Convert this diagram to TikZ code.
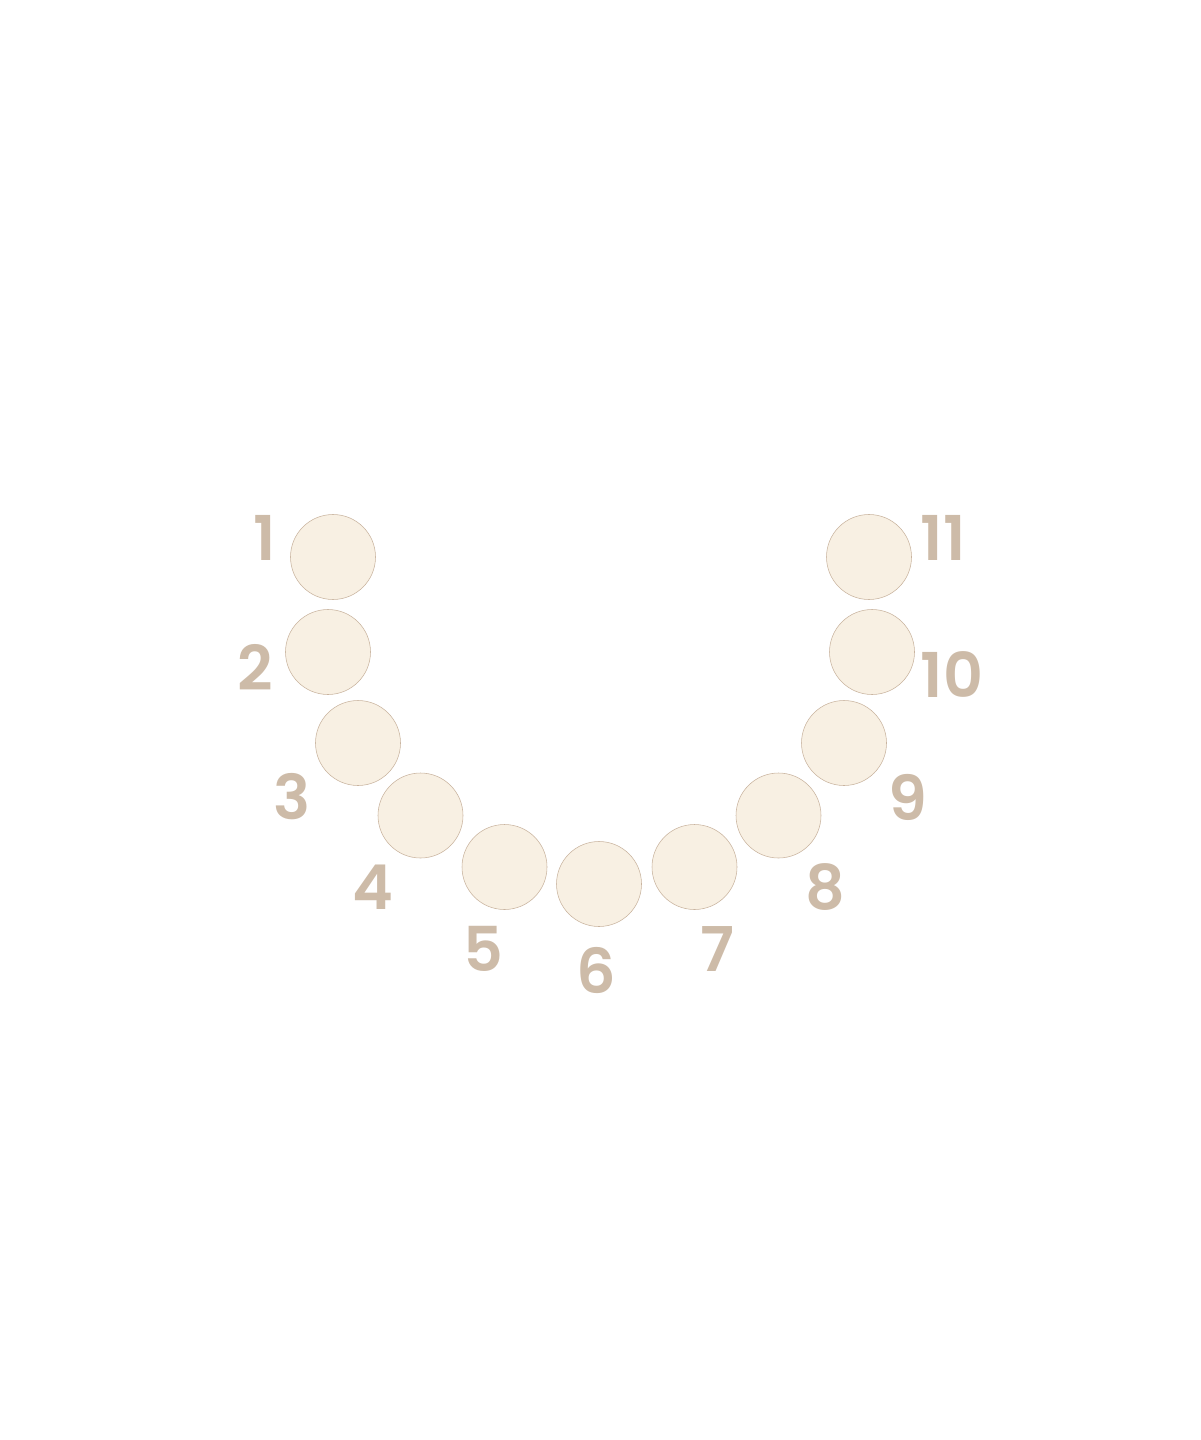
\documentclass[tikz,border=0pt]{standalone}
\usepackage{fontspec}
\setmainfont{Poppins}[BoldFont={Poppins SemiBold}]
\definecolor{toothfill}{HTML}{F8F0E3}
\definecolor{toothline}{HTML}{C9B49F}
\definecolor{numcolor}{HTML}{CDBBA8}

\begin{document}
\begin{tikzpicture}[x=0.05cm,y=-0.05cm,
		tooth/.style={circle,draw=toothline,fill=toothfill,line width=0.8pt,minimum size=85*0.05cm,inner sep=0pt},
		num/.style={text=numcolor,font=\fontsize{88}{100}\selectfont\bfseries,inner sep=0pt,anchor=center}]
				\useasboundingbox (0,0) rectangle (1200,1440);
				\node[tooth] (T1) at (333,557) {};
				\node[tooth] (T2) at (328,652) {};
				\node[tooth] (T3) at (358,743) {};
				\node[tooth] (T4) at (420.5,815.5) {};
				\node[tooth] (T5) at (504.5,867) {};
				\node[tooth] (T6) at (599,884) {};
				\node[tooth] (T7) at (694.5,867) {};
				\node[tooth] (T8) at (778.5,815.5) {};
				\node[tooth] (T9) at (844,743) {};
				\node[tooth] (T10) at (872,652) {};
				\node[tooth] (T11) at (869,557) {};
				\node[num] (N1) at (265,538) {1};
				\node[num] (N2) at (255,667) {2};
				\node[num] (N3) at (292,797) {3};
				\node[num] (N4) at (373,887) {4};
				\node[num] (N5) at (483,949) {5};
				\node[num] (N6) at (596,970) {6};
				\node[num] (N7) at (717,949) {7};
				\node[num] (N8) at (825,887) {8};
				\node[num] (N9) at (908,797) {9};
				\node[num] (N10) at (952,675) {10};
				\node[num] (N11) at (943,538) {11};
			\end{tikzpicture}
\end{document}
